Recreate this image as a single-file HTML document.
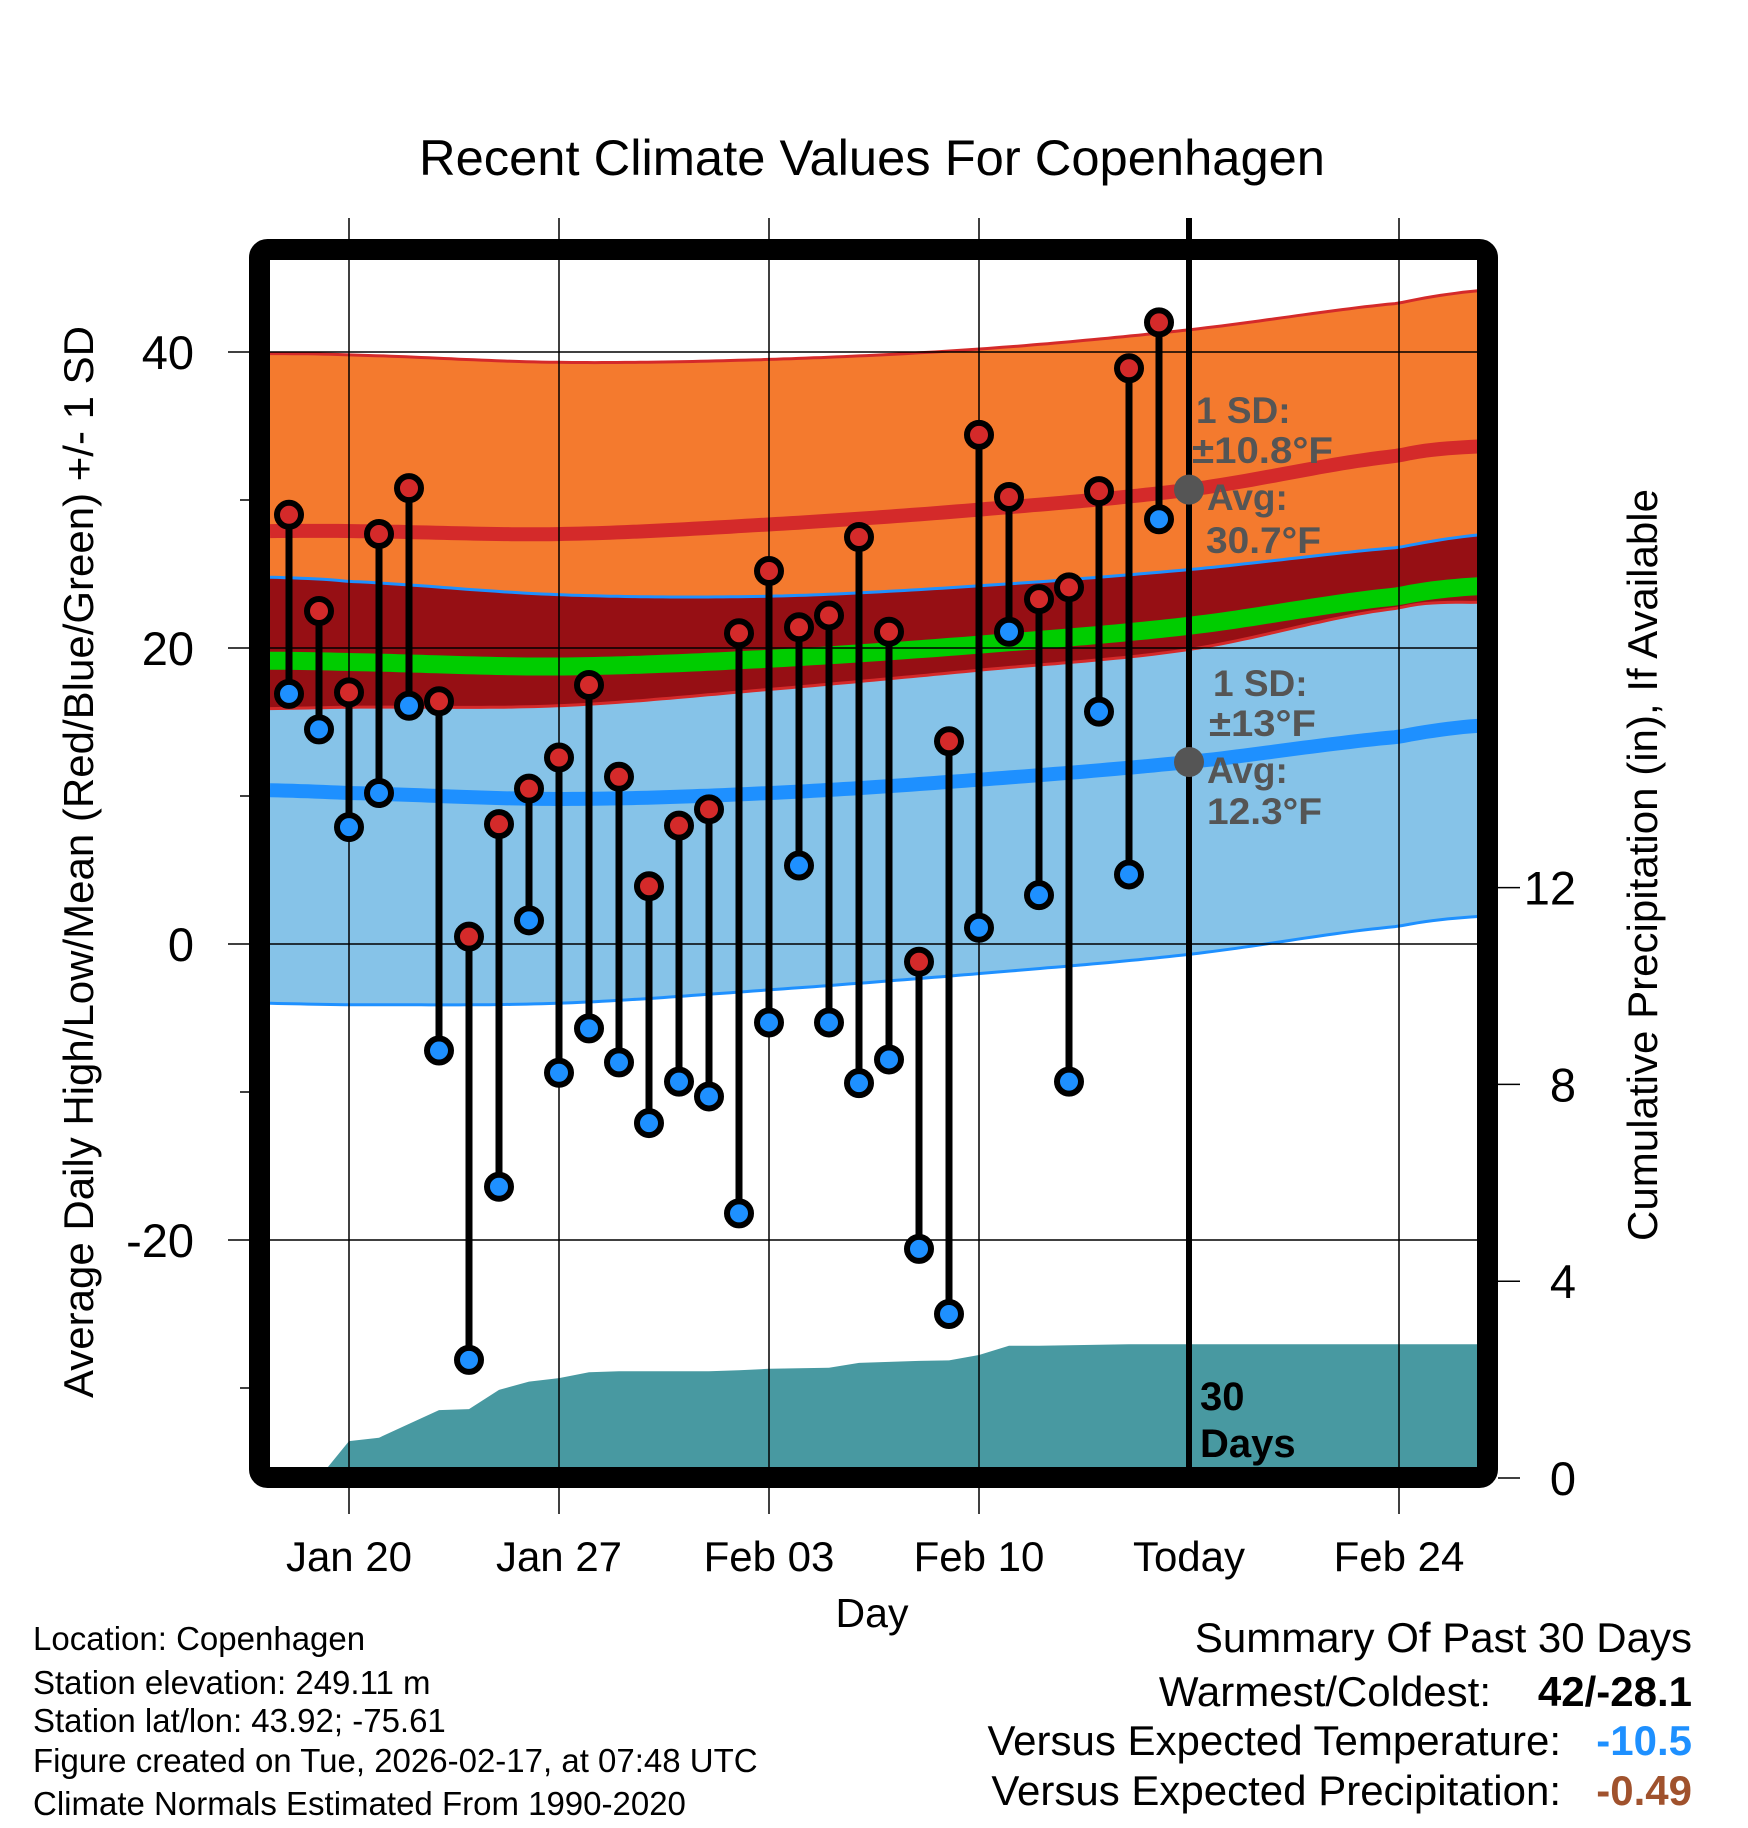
<!DOCTYPE html>
<html><head><meta charset="utf-8"><style>
html,body{margin:0;padding:0;background:#fff}
svg{display:block;font-family:"Liberation Sans",sans-serif}
</style></head><body>
<svg id="c" width="1748" height="1828" viewBox="0 0 1748 1828" xmlns="http://www.w3.org/2000/svg">
<g id="bands"></g>
<g id="grid"></g>
<g id="marks"></g>
<g id="axes"></g>
<text x="872" y="175" font-size="50" text-anchor="middle" textLength="906" lengthAdjust="spacingAndGlyphs">Recent Climate Values For Copenhagen</text>
<text transform="translate(93,862) rotate(-90)" font-size="42" text-anchor="middle" textLength="1072" lengthAdjust="spacingAndGlyphs">Average Daily High/Low/Mean (Red/Blue/Green) +/- 1 SD</text>
<text transform="translate(1657,865) rotate(-90)" font-size="42" text-anchor="middle" textLength="752" lengthAdjust="spacingAndGlyphs">Cumulative Precipitation (in), If Available</text>
<text x="872" y="1627" font-size="41" text-anchor="middle">Day</text>
<g font-size="37" font-weight="bold" fill="#555">
<text x="1196" y="423">1 SD:</text><text x="1192" y="463" textLength="141" lengthAdjust="spacingAndGlyphs">±10.8°F</text><text x="1207" y="510">Avg:</text><text x="1206" y="553" textLength="115" lengthAdjust="spacingAndGlyphs">30.7°F</text></g>
<g font-size="37" font-weight="bold" fill="#555">
<text x="1213" y="696">1 SD:</text><text x="1209" y="736" textLength="107" lengthAdjust="spacingAndGlyphs">±13°F</text><text x="1207" y="783">Avg:</text><text x="1207" y="824" textLength="115" lengthAdjust="spacingAndGlyphs">12.3°F</text></g>
<g font-size="40" font-weight="bold"><text x="1200" y="1410">30</text><text x="1200" y="1457">Days</text></g>
<g font-size="33">
<text x="33" y="1650">Location: Copenhagen</text>
<text x="33" y="1694">Station elevation: 249.11 m</text>
<text x="33" y="1732">Station lat/lon: 43.92; -75.61</text>
<text x="33" y="1772">Figure created on Tue, 2026-02-17, at 07:48 UTC</text>
<text x="33" y="1815">Climate Normals Estimated From 1990-2020</text></g>
<g font-size="42" text-anchor="end">
<text x="1692" y="1652">Summary Of Past 30 Days</text>
<text x="1491" y="1706">Warmest/Coldest:</text>
<text x="1692" y="1706" font-weight="bold">42/-28.1</text>
<text x="1561" y="1755">Versus Expected Temperature:</text>
<text x="1692" y="1755" font-weight="bold" fill="#1e90ff">-10.5</text>
<text x="1561" y="1805">Versus Expected Precipitation:</text>
<text x="1692" y="1805" font-weight="bold" fill="#a0522d">-0.49</text></g>
</svg>
<script>
const normDays=[-3,0,7,14,21,28,35,38];
const avgHigh=[27.9,27.9,27.7,28.35,29.35,30.7,33.0,33.65];
const sdHigh=[12.0,11.9,11.6,11.15,10.85,10.8,10.3,10.55];
const avgLow=[10.4,10.2,9.8,10.2,11.1,12.3,14.0,14.8];
const sdLow=[14.4,14.3,13.8,13.3,13.1,13.0,12.8,12.9];
const obsDays=[-2,-1,0,1,2,3,4,5,6,7,8,9,10,11,12,13,14,15,16,17,18,19,20,21,22,23,24,25,26,27];
const highs=[29.0,22.5,17.0,27.7,30.8,16.4,0.5,8.1,10.5,12.6,17.5,11.3,3.9,8.0,9.1,21.0,25.2,21.4,22.2,27.5,21.1,-1.2,13.7,34.4,30.2,23.3,24.1,30.6,38.9,42.0];
const lows=[16.9,14.5,7.9,10.2,16.1,-7.2,-28.1,-16.4,1.6,-8.7,-5.7,-8.0,-12.1,-9.3,-10.3,-18.2,-5.3,5.3,-5.3,-9.4,-7.8,-20.6,-25.0,1.1,21.1,3.3,-9.3,15.7,4.7,28.7];
const precip=[0,0,0.75,0.82,1.1,1.38,1.40,1.79,1.96,2.03,2.15,2.17,2.17,2.17,2.17,2.19,2.22,2.23,2.24,2.34,2.36,2.38,2.39,2.5,2.69,2.69,2.70,2.71,2.72,2.72];
const yTicks=[40,20,0,-20];
const y2Ticks=[0,4,8,12];
const xTickDays=[0,7,14,21,28,35];
const xTickLabels=['Jan 20','Jan 27','Feb 03','Feb 10','Today','Feb 24'];

const NS='http://www.w3.org/2000/svg';
const X0=270,X1=1478,Y0=260,Y1=1468;
const xs=d=>349+d*30;
const ys=v=>944-v*14.8;
const yp=p=>1478-p*49.2;
function mk(tag,at,parent){const e=document.createElementNS(NS,tag);for(const k in at)e.setAttribute(k,at[k]);parent.appendChild(e);return e;}
function interp(arr,d){const n=normDays.length;let i=0;while(i<n-2&&d>normDays[i+1])i++;
 const t=Math.max(0,Math.min(1,(d-normDays[i])/(normDays[i+1]-normDays[i])));
 const p0=arr[Math.max(0,i-1)],p1=arr[i],p2=arr[i+1],p3=arr[Math.min(n-1,i+2)];
 return 0.5*((2*p1)+(-p0+p2)*t+(2*p0-5*p1+4*p2-p3)*t*t+(-p0+3*p1-3*p2+p3)*t*t*t);}
const dStart=(X0-349)/30,dEnd=(X1-349)/30;
const samp=[];for(let i=0;i<=160;i++)samp.push(dStart+(dEnd-dStart)*i/160);
const f=(fn)=>samp.map(d=>[xs(d),ys(fn(d))]);
const hiTop=f(d=>interp(avgHigh,d)+interp(sdHigh,d)),hiBot=f(d=>interp(avgHigh,d)-interp(sdHigh,d));
const loTop=f(d=>interp(avgLow,d)+interp(sdLow,d)),loBot=f(d=>interp(avgLow,d)-interp(sdLow,d));
const hiAvg=f(d=>interp(avgHigh,d)),loAvg=f(d=>interp(avgLow,d)),mean=f(d=>(interp(avgHigh,d)+interp(avgLow,d))/2);
const pts=a=>a.map(p=>p[0].toFixed(1)+','+p[1].toFixed(1)).join(' ');
const band=(t,b)=>pts(t)+' '+pts(b.slice().reverse());
const B=document.getElementById('bands');
const cp=mk('clipPath',{id:'clip'},mk('defs',{},B));mk('rect',{x:X0,y:Y0,width:X1-X0,height:Y1-Y0},cp);
const g=mk('g',{'clip-path':'url(#clip)'},B);
let e;
e=mk('polygon',{points:band(hiTop,hiBot),fill:'#f47a2e'},g);


e=mk('polygon',{points:band(loTop,loBot),fill:'#86c3e8'},g);


e=mk('polygon',{points:band(loTop,hiBot),fill:'#960f14'},g);


const lineSpecs=[[hiTop,'#d42a2a',3],[hiBot,'#d42a2a',3],[loTop,'#1e90ff',3],[loBot,'#1e90ff',3],[hiAvg,'#d42a2a',14],[loAvg,'#1e90ff',14],[mean,'#00cc00',18]];
const lineNames=['high-upper-edge','high-lower-edge','low-upper-edge','low-lower-edge','avg-high-line','avg-low-line','mean-line'];
lineSpecs.forEach((a,i)=>{
 const l=mk('polyline',{points:pts(a[0]),fill:'none',stroke:a[1],'stroke-width':a[2]},g);
 
 
});
const pp=[[X0,yp(0)]];obsDays.forEach((d,i)=>pp.push([xs(d),yp(precip[i])]));pp.push([X1,yp(precip[precip.length-1])]);pp.push([X1,Y1+10]);pp.push([X0,Y1+10]);
e=mk('polygon',{points:pts(pp),fill:'#4899a1'},g);


const G=document.getElementById('grid');
const A=document.getElementById('axes');
yTicks.forEach(v=>{const l=mk('line',{x1:228,x2:X1,y1:ys(v),y2:ys(v),stroke:'#000','stroke-width':1.5},G);
 
 
 const t=mk('text',{x:194,y:ys(v)+17,'font-size':47,'text-anchor':'end'},A);t.textContent=v;
 
 });
[30,10,-10,-30].forEach(v=>{const l=mk('line',{x1:240,x2:252,y1:ys(v),y2:ys(v),stroke:'#000','stroke-width':1.5},G);
 
 });
xTickDays.forEach((d,i)=>{const l=mk('line',{x1:xs(d),x2:xs(d),y1:218,y2:d===28?Y1:1514,stroke:'#000','stroke-width':d===28?6:1.5},G);
 
 
 const t=mk('text',{x:xs(d),y:1571,'font-size':42,'text-anchor':'middle'},A);t.textContent=xTickLabels[i];
 
 });
y2Ticks.forEach(p=>{const l=mk('line',{x1:1498,x2:1520,y1:yp(p),y2:yp(p),stroke:'#000','stroke-width':1.5},G);
 
 
 const t=mk('text',{x:1576,y:yp(p)+17,'font-size':47,'text-anchor':'end'},A);t.textContent=p;
 
 });
const M=document.getElementById('marks');
obsDays.forEach((d,i)=>{
 const s=mk('line',{x1:xs(d),x2:xs(d),y1:ys(highs[i]),y2:ys(lows[i]),stroke:'#000','stroke-width':7},M);
 
 
});
obsDays.forEach((d,i)=>{
 const h=mk('circle',{cx:xs(d),cy:ys(highs[i]),r:12,fill:'#d42a2a',stroke:'#000','stroke-width':6},M);
 
 
 const l=mk('circle',{cx:xs(d),cy:ys(lows[i]),r:12,fill:'#1e90ff',stroke:'#000','stroke-width':6},M);
 
 
});
[avgHigh,avgLow].forEach((a,i)=>{const c=mk('circle',{cx:xs(28),cy:ys(interp(a,28)),r:15,fill:'#555'},M);
 
 });
const fr=mk('rect',{x:259.5,y:249.5,width:1228,height:1228,rx:8,fill:'none',stroke:'#000','stroke-width':21},A);


</script>
</body></html>
